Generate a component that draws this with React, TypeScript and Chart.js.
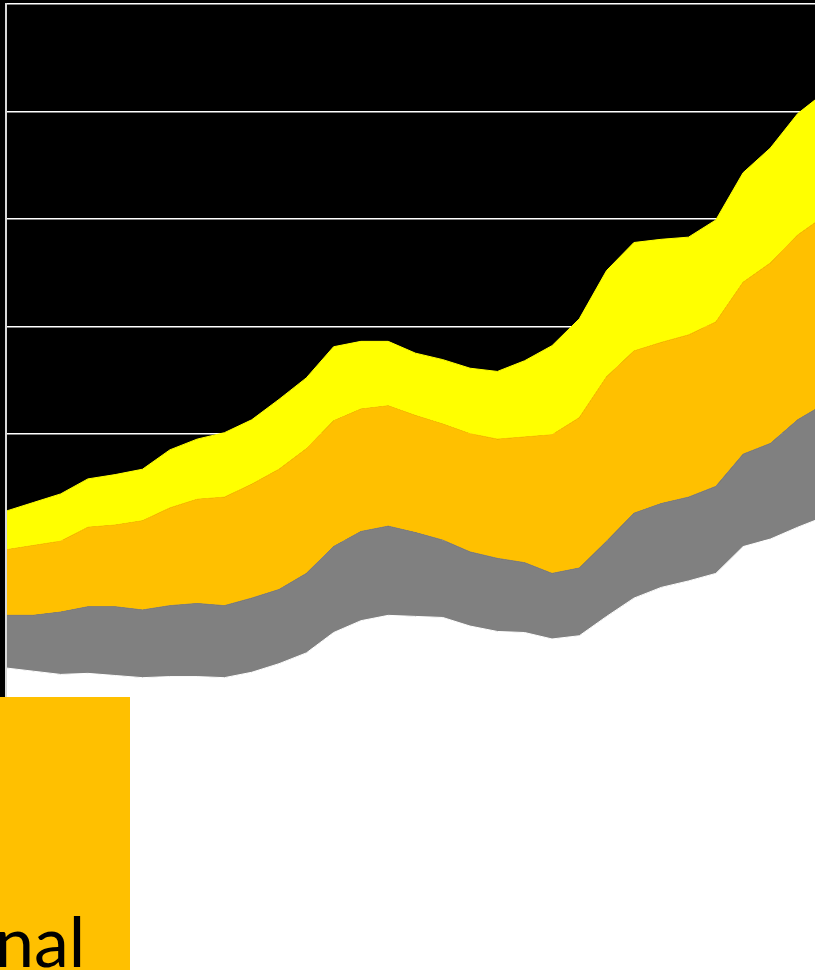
import React, { useEffect, useRef } from "react";
import { Chart, registerables } from "chart.js";

Chart.register(...registerables);

const categories = [
  "1980", "1981", "1982", "1983", "1984", "1985", "1986", "1987", "1988", "1989",
  "1990", "1991", "1992", "1993", "1994", "1995", "1996", "1997", "1998", "1999",
  "2000", "2001", "2002", "2003", "2004", "2005", "2006", "2007", "2008", "2009",
  "2010",
];

const baseSeries = [82, 79, 76, 77, 75, 73, 74, 74, 73, 78, 86, 96, 115, 126, 131, 130, 129, 121, 116, 115, 109, 112, 130, 147, 157, 163, 170, 195, 202, 213, 223];
const graySeries = [49, 52, 58, 62, 64, 63, 66, 68, 67, 69, 69, 74, 80, 83, 83, 78, 72, 69, 68, 65, 61, 63, 70, 79, 78, 78, 81, 86, 89, 100, 105];
const orangeSeries = [61, 65, 66, 74, 76, 83, 91, 97, 101, 106, 112, 116, 117, 114, 112, 109, 108, 110, 111, 117, 129, 140, 153, 151, 150, 151, 153, 160, 168, 172, 175];
const yellowSeries = [36, 40, 44, 45, 47, 48, 54, 56, 60, 60, 65, 66, 69, 63, 60, 58, 60, 61, 63, 71, 83, 92, 99, 101, 96, 91, 95, 102, 107, 113, 115];

const legendLabel = "nal";

export default function App() {
  const canvasRef = useRef<HTMLCanvasElement | null>(null);

  useEffect(() => {
    const canvas = canvasRef.current;
    if (!canvas) return;
    const mk = (label: string, data: number[], color: string, fill: any) => ({
      label,
      data,
      backgroundColor: color,
      borderColor: color,
      borderWidth: 1,
      pointRadius: 0,
      pointHoverRadius: 0,
      tension: 0,
      fill,
    });
    const chart = new Chart(canvas, {
      type: "line",
      data: {
        labels: categories,
        datasets: [
          mk("Base", baseSeries, "#FFFFFF", "start"),
          mk("Gray", graySeries, "#808080", "-1"),
          mk("Orange", orangeSeries, "#FFC000", "-1"),
          mk("Yellow", yellowSeries, "#FFFF00", "-1"),
        ],
      },
      options: {
        responsive: false,
        animation: false,
        devicePixelRatio: 1,
        layout: { padding: { left: 6, top: 4, right: 1, bottom: 0 } },
        plugins: { legend: { display: false }, tooltip: { enabled: false } },
        scales: {
          x: { display: false, offset: false },
          y: {
            stacked: true,
            min: 55,
            max: 700,
            ticks: { display: false, stepSize: 100 },
            grid: { color: "#FFFFFF", lineWidth: 1.5, drawTicks: false },
            border: { display: true, color: "#D9D9D9", width: 2, z: 1 },
          },
        },
      },
    });
    return () => chart.destroy();
  }, []);

  return (
    <div
      style={{
        position: "fixed",
        left: 0,
        top: 0,
        width: 815,
        height: 970,
        overflow: "hidden",
        background: "#FFFFFF",
      }}
    >
      <canvas
        ref={canvasRef}
        width={826}
        height={697}
        style={{ position: "absolute", left: 0, top: 0, width: 826, height: 697, background: "#000000" }}
      />
      <div
        style={{
          position: "absolute",
          left: 0,
          top: 697,
          width: 130,
          height: 273,
          background: "#FFC000",
          overflow: "hidden",
        }}
      >
        <span
          style={{
            position: "absolute",
            left: -5,
            top: 905 - 697,
            fontFamily: "Lato, sans-serif",
            fontSize: 70,
            lineHeight: 1,
            color: "#000000",
            whiteSpace: "nowrap",
          }}
        >
          {legendLabel}
        </span>
      </div>
    </div>
  );
}
